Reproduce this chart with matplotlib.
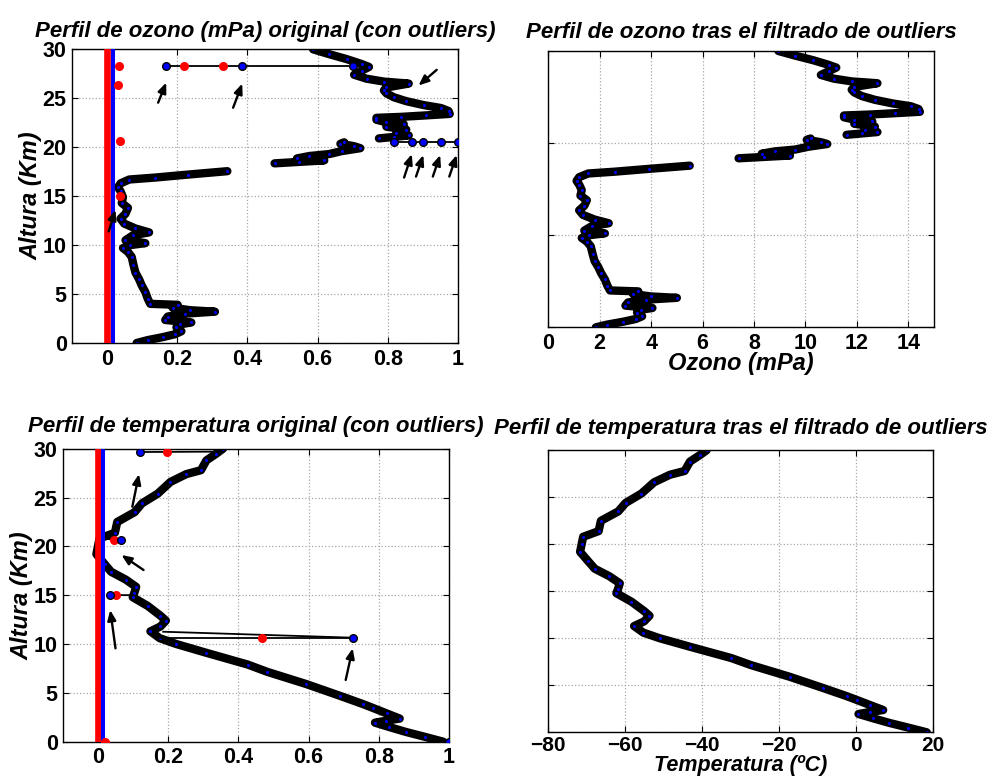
import numpy as np
import matplotlib
matplotlib.use('Agg')
import matplotlib.pyplot as plt

plt.rcParams['font.family'] = ['Liberation Sans', 'DejaVu Sans']
plt.rcParams['font.weight'] = 'bold'
plt.rcParams['axes.unicode_minus'] = True

# ---------------- Ozone (filtered) profile, mPa vs altitude km (NaN = data gap)
ozone_alt = [0.0, 0.3, 0.6, 0.9, 1.2, 1.6, 1.9, 2.1, 2.35, 2.7, 3.0, 3.2, 3.35, 3.6, 3.9,
             4.0, 4.5, 5.2, 5.9, 6.5, 7.2, 8.0, 8.8, 9.3, 9.7, 10.0, 10.2, 10.5, 11.0, 11.3,
             11.7, 12.2, 12.7, 13.2, 13.8, 14.3, 14.9, 15.5, 15.9, 16.3, 16.7, 16.9, 17.2, 17.55,
             np.nan,
             18.35, 18.5, 18.65, 18.85, 19.1, 19.3, 19.6, 19.9, 20.1, 20.35, 20.5,
             np.nan,
             20.9, 21.05, 21.2, 21.45, 21.8, 22.1, 22.35, 22.55, 22.8, 23.0, 23.1, 23.25, 23.4,
             23.7, 24.0, 24.3, 24.7, 25.1, 25.5, 25.8, 26.1, 26.5, 26.7, 27.0, 27.4, 27.8, 28.2,
             28.5, 29.0, 29.5, 30.0]
ozone_mpa = [1.85, 2.3, 2.9, 3.4, 3.65, 3.45, 3.6, 4.05, 3.0, 3.1, 3.8, 5.0, 4.0, 3.3, 3.5,
             2.4, 2.3, 2.2, 2.05, 1.95, 1.8, 1.72, 1.65, 1.5, 1.3, 1.6, 2.2, 1.4, 1.7, 2.35,
             1.8, 1.35, 1.2, 1.4, 1.5, 1.25, 1.3, 1.2, 1.1, 1.2, 1.55, 2.6, 3.9, 5.5,
             np.nan,
             7.4, 8.4, 9.4, 8.3, 8.8, 9.6, 10.1, 10.85, 10.6, 10.05, 10.2,
             np.nan,
             11.6, 12.2, 12.8, 12.3, 12.7, 11.9, 12.6, 11.9, 11.5, 11.5, 12.5, 13.5, 14.45,
             14.4, 14.1, 13.4, 12.7, 12.2, 11.9, 11.8, 11.9, 12.8, 11.8, 11.1, 10.6, 10.9, 11.2,
             10.9, 10.3, 9.6, 8.95]
# normalisation bounds of the raw ozone series (mPa)
OZ_MIN, OZ_MAX = 0.67, 14.77
# outlier excursions in the raw ozone series (mPa): outliers + profile point they join
oz_out1_alt = [28.30, 28.30, 28.30]
oz_out1_mpa = [3.05, 6.10, 10.55]
oz_out2_alt = [20.56, 20.56, 20.56, 20.56, 20.56]
oz_out2_mpa = [12.20, 12.92, 13.39, 14.09, 14.77]
# detection statistic (red) and threshold (blue), normalised units
oz_red_alt = [0.0, 3.8, 7.5, 11.2, 15.0, 18.8, 22.5, 26.2, 30.0]
oz_red_val = [0.0, 0.0, 0.0, 0.0, 0.0, 0.0, 0.0, 0.0, 0.0]
oz_redpk_alt = [28.3, 28.3, 28.3, 26.4, 20.6, 15.0]
oz_redpk_val = [0.032, 0.22, 0.329, 0.030, 0.035, 0.035]
OZ_THRESHOLD = 0.016
# arrows (tail x, tail alt, head x, head alt) in normalised units
oz_arrows = [(0.145, 24.55, 0.168, 26.6), (0.359, 24.03, 0.385, 26.5),
             (0.940, 27.9, 0.888, 26.3), (0.847, 16.9, 0.869, 19.3),
             (0.881, 17.0, 0.902, 19.2), (0.929, 17.0, 0.950, 19.2),
             (0.976, 17.0, 0.997, 19.2), (0.004, 11.4, 0.023, 13.6)]

# ---------------- Temperature (filtered) profile, degC vs altitude km
temp_alt = [0.0, 0.5, 1.0, 1.5, 1.95, 2.15, 2.37, 2.9, 3.45, 3.85, 4.7, 5.9, 7.15, 7.9,
            9.1, 10.0, 10.6, 11.3, 11.8, 12.4, 12.9, 13.9, 14.8, 15.2, 15.85, 16.6, 17.4,
            18.2, 19.2, 20.0, 20.8, 21.4, 22.5, 23.5, 24.4, 25.4, 26.6, 27.4, 27.8, 28.8,
            29.5, 30.0]
temp_c = [18.3, 13.5, 8.6, 4.3, 0.6, 3.5, 7.0, 3.6, 0.1, -2.5, -8.5, -17.2, -27.3, -32.4,
          -43.1, -50.9, -55.2, -57.6, -55.0, -53.6, -55.0, -58.3, -62.2, -61.8, -61.3, -64.0,
          -67.8, -69.5, -71.6, -71.2, -70.8, -66.8, -66.2, -61.7, -59.8, -55.7, -52.4, -48.3,
          -44.5, -43.1, -40.5, -38.8]
T_MIN, T_MAX = -71.1, 19.7
# temperature outliers (degC) and the profile points each one is joined to
t_out_alt = [29.66, 20.68, 15.02, 10.65, 0.0]
t_out_c = [-60.2, -65.3, -68.0, -5.1, 19.7]
t_nbr_alt = [[29.7], [20.75], [15.0], [10.65, 11.26], [0.0]]
t_nbr_c = [[-39.8], [-69.0], [-62.0], [-56.0, -54.3], [18.3]]
t_red_alt = [0.0, 3.8, 7.5, 11.2, 15.0, 18.8, 22.5, 26.2, 30.0]
t_red_val = [-0.002, -0.002, -0.002, -0.002, -0.002, -0.002, -0.002, -0.002, -0.002]
t_redpk_alt = [29.66, 20.68, 15.02, 10.65, 0.0]
t_redpk_val = [0.196, 0.045, 0.049, 0.466, 0.02]
T_THRESHOLD = 0.014
t_arrows = [(0.097, 24.06, 0.116, 27.4), (0.129, 17.58, 0.066, 19.12),
            (0.049, 9.56, 0.034, 13.48), (0.706, 6.32, 0.726, 9.56)]

# tick labels
norm_ticks = [0, 0.2, 0.4, 0.6, 0.8, 1]
norm_labels = ['0', '0.2', '0.4', '0.6', '0.8', '1']
oz_ticks = [0, 2, 4, 6, 8, 10, 12, 14]
oz_labels = ['0', '2', '4', '6', '8', '10', '12', '14']
t_ticks = [-80, -60, -40, -20, 0, 20]
t_labels = ['\u221280', '\u221260', '\u221240', '\u221220', '0', '20']
alt_ticks = [0, 5, 10, 15, 20, 25, 30]
alt_labels = ['0', '5', '10', '15', '20', '25', '30']

# ---------------------------------------------------------------- figure
W, H = 988, 778
fig = plt.figure(figsize=(W / 100, H / 100), dpi=100)


def rect(l, t, r, b):
    return [l / W, 1 - b / H, (r - l) / W, (b - t) / H]


ax1 = fig.add_axes(rect(72.3, 49.3, 457.7, 343))
ax2 = fig.add_axes(rect(548.3, 51, 934, 327.3))
ax3 = fig.add_axes(rect(63.3, 448.7, 448.7, 741.7))
ax4 = fig.add_axes(rect(547.7, 450.3, 933.3, 732.3))

TICK_FS = 15.5
TITLE_FS = 16
LABEL_FS = 17


def style(ax, xlim, xt, xl, yt, yl):
    ax.set_xlim(xlim)
    ax.set_ylim(0, 30)
    ax.set_xticks(xt)
    ax.set_xticklabels(xl)
    ax.set_yticks(yt)
    ax.set_yticklabels(yl)
    ax.grid(True, ls=':', color='#a8a8a8', lw=0.9)
    ax.set_axisbelow(True)
    ax.tick_params(direction='in', top=True, right=True, length=4, width=0.8,
                   labelsize=TICK_FS, pad=4)
    for s in ax.spines.values():
        s.set_linewidth(1.0)


def profile(ax, x, y):
    ax.plot(x, y, '-', color='k', lw=6.0, solid_capstyle='round',
            solid_joinstyle='round', zorder=2)
    ax.plot(x, y, 'o', ms=2.2, mfc='blue', mec='none', zorder=2.5)


def arrows(ax, arr):
    for tx, ty, hx, hy in arr:
        ax.annotate('', xy=(hx, hy), xytext=(tx, ty),
                    arrowprops=dict(arrowstyle='-|>,head_length=0.6,head_width=0.25',
                                    color='k', lw=1.7, shrinkA=0, shrinkB=0),
                    zorder=8)


oz = np.array(ozone_mpa)
oz_n = (oz - OZ_MIN) / (OZ_MAX - OZ_MIN)
tc = np.array(temp_c)
t_n = (tc - T_MIN) / (T_MAX - T_MIN)

# ---- panel 1: original ozone (normalised)
style(ax1, (-0.1, 1.0), norm_ticks, norm_labels, alt_ticks, alt_labels)
profile(ax1, oz_n, ozone_alt)
for a, v in ((oz_out1_alt, oz_out1_mpa), (oz_out2_alt, oz_out2_mpa)):
    vn = (np.array(v) - OZ_MIN) / (OZ_MAX - OZ_MIN)
    ax1.plot(vn, a, '-', color='k', lw=1.3, zorder=5)
    ax1.plot(vn, a, 'o', ms=5.5, mfc='blue', mec='k', mew=1.0, zorder=7)
ax1.plot(oz_red_val, oz_red_alt, '-', color='red', lw=4.8, solid_capstyle='round', zorder=4)
ax1.plot(oz_redpk_val, oz_redpk_alt, 'o', ms=5.5, color='red', zorder=6)
ax1.axvline(OZ_THRESHOLD, color='blue', lw=2.9, zorder=4.5)
arrows(ax1, oz_arrows)
ax1.set_title('Perfil de ozono (mPa) original (con outliers)', fontsize=TITLE_FS,
              fontweight='bold', fontstyle='italic', pad=9)
ax1.set_ylabel('Altura (Km)', fontsize=LABEL_FS, fontweight='bold', fontstyle='italic',
               labelpad=0)

# ---- panel 2: filtered ozone (mPa)
style(ax2, (0, 15), oz_ticks, oz_labels, [0, 10, 20, 30], ['', '', '', ''])
profile(ax2, oz, ozone_alt)
ax2.set_title('Perfil de ozono tras el filtrado de outliers', fontsize=TITLE_FS,
              fontweight='bold', fontstyle='italic', pad=9)
ax2.set_xlabel('Ozono (mPa)', fontsize=LABEL_FS, fontweight='bold', fontstyle='italic',
               labelpad=-1)

# ---- panel 3: original temperature (normalised)
style(ax3, (-0.1, 1.0), norm_ticks, norm_labels, alt_ticks, alt_labels)
profile(ax3, t_n, temp_alt)
for oa, ov, na, nv in zip(t_out_alt, t_out_c, t_nbr_alt, t_nbr_c):
    on = (ov - T_MIN) / (T_MAX - T_MIN)
    for a2, v2 in zip(na, nv):
        vn2 = (v2 - T_MIN) / (T_MAX - T_MIN)
        ax3.plot([on, vn2], [oa, a2], '-', color='k', lw=1.3, zorder=5)
    ax3.plot([on], [oa], 'o', ms=5.5, mfc='blue', mec='k', mew=1.0, zorder=7)
ax3.plot(t_red_val, t_red_alt, '-', color='red', lw=4.8, solid_capstyle='round', zorder=4)
ax3.plot(t_redpk_val, t_redpk_alt, 'o', ms=5.5, color='red', zorder=6)
ax3.axvline(T_THRESHOLD, color='blue', lw=2.9, zorder=4.5)
arrows(ax3, t_arrows)
ax3.set_title('Perfil de temperatura original (con outliers)', fontsize=TITLE_FS,
              fontweight='bold', fontstyle='italic', pad=12)
ax3.set_ylabel('Altura (Km)', fontsize=LABEL_FS, fontweight='bold', fontstyle='italic',
               labelpad=0)

# ---- panel 4: filtered temperature (degC)
style(ax4, (-80, 20), t_ticks, t_labels, alt_ticks, [''] * len(alt_ticks))
ax4.tick_params(axis='x', labelsize=15, pad=3)
profile(ax4, tc, temp_alt)
ax4.set_title('Perfil de temperatura tras el filtrado de outliers', fontsize=TITLE_FS,
              fontweight='bold', fontstyle='italic', pad=12)
ax4.set_xlabel('Temperatura (ºC)', fontsize=15.5, fontweight='bold', fontstyle='italic',
               labelpad=0)

fig.savefig('out.png', dpi=100)
